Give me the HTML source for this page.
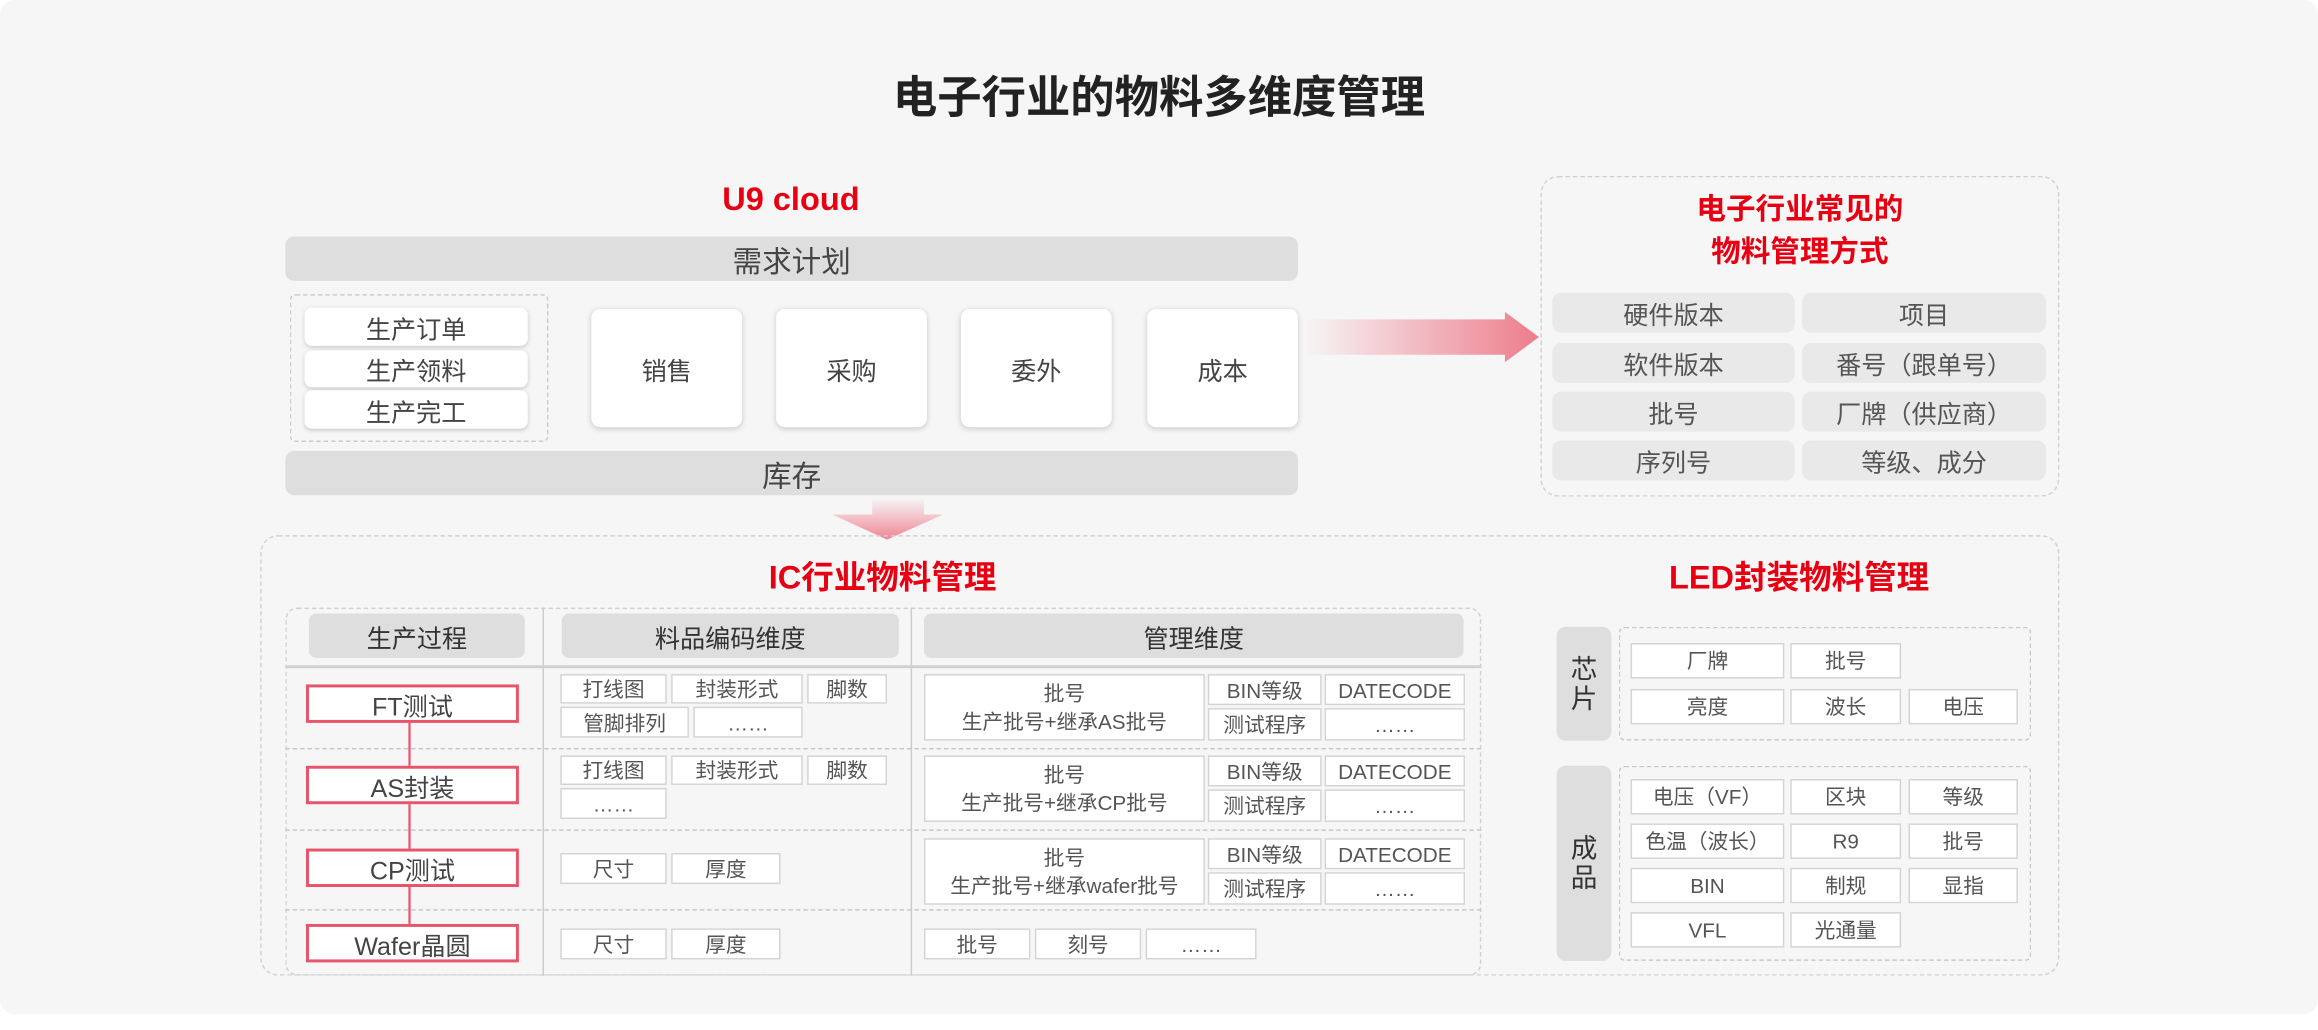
<!DOCTYPE html>
<html><head><meta charset="utf-8"><style>
html,body{margin:0;padding:0;background:#fff;width:2318px;height:1030px;overflow:hidden}
#w{position:absolute;left:0;top:0;width:1568px;height:697px;transform:scale(1.47832);transform-origin:0 0;font-family:"Liberation Sans","Noto Sans CJK SC",sans-serif;color:#444}
.a{position:absolute;box-sizing:border-box;display:flex;align-items:center;justify-content:center;text-align:center;white-space:nowrap}
.bg{position:absolute;left:0;top:0;width:1568px;height:686px;background:#f6f6f6;border-radius:10px}
.red{color:#e60012;font-weight:bold}
.bar{background:#dedede;border-radius:6px;font-size:20px;color:#444}
.sm{background:#fff;border-radius:5px;box-shadow:0 1px 3px rgba(0,0,0,.18);font-size:17px}
.big{background:#fff;border-radius:6px;box-shadow:0 1px 4px rgba(0,0,0,.18);font-size:17px}
.g{background:#e9e9e9;border-radius:6px;font-size:17px;color:#555}
.c{background:#fff;border:1px solid #d4d4d4;font-size:14px;color:#555}
.h{background:#dedede;border-radius:5px;font-size:17px;color:#333}
.p{background:#fff;border:2px solid #e8546a;font-size:17px;color:#444}
.dot{position:absolute;box-sizing:border-box;border:1px dashed #d0d0d0;border-radius:12px}
</style></head><body><div id="w">
<div class="bg"></div>
<div class="a" style="left:0;top:40px;width:1568px;height:46px;font-size:30px;font-weight:bold;color:#222">电子行业的物料多维度管理</div>
<div class="a red" style="left:435px;top:120px;width:200px;height:30px;font-size:22px">U9 cloud</div>
<div class="a bar" style="left:193px;top:160px;width:685px;height:30px">需求计划</div>
<div class="dot" style="left:196px;top:199px;width:175px;height:100px;border-radius:4px;border-color:#ccc"></div>
<div class="a sm" style="left:206px;top:208px;width:151px;height:26px">生产订单</div>
<div class="a sm" style="left:206px;top:237px;width:151px;height:25px">生产领料</div>
<div class="a sm" style="left:206px;top:264px;width:151px;height:26px">生产完工</div>
<div class="a big" style="left:400px;top:209px;width:102px;height:80px">销售</div>
<div class="a big" style="left:525px;top:209px;width:102px;height:80px">采购</div>
<div class="a big" style="left:650px;top:209px;width:102px;height:80px">委外</div>
<div class="a big" style="left:776px;top:209px;width:102px;height:80px">成本</div>
<div class="a bar" style="left:193px;top:305px;width:685px;height:30px">库存</div>
<svg style="position:absolute;left:0;top:0" width="1568" height="697">
<defs><linearGradient id="gr" x1="0" x2="1"><stop offset="0" stop-color="#f6f6f6"/><stop offset="1" stop-color="#ee7c8b"/></linearGradient>
<linearGradient id="gd" x1="0" y1="0" x2="0" y2="1"><stop offset="0" stop-color="#f6f6f6"/><stop offset="1" stop-color="#ef8594"/></linearGradient></defs>
<polygon points="882,216 1018,216 1018,211 1041,228 1018,245 1018,240 882,240" fill="url(#gr)"/>
<polygon points="590,337 625,337 625,348 638,348 600,365 563,348 590,348" fill="url(#gd)"/>
<line x1="277" y1="488" x2="277" y2="625" stroke="#e8546a" stroke-width="1.5"/>
</svg>
<div class="dot" style="left:1042px;top:119px;width:351px;height:217px"></div>
<div class="a red" style="left:1042px;top:128px;width:351px;height:58px;font-size:20px;line-height:29px;white-space:normal">电子行业常见的<br>物料管理方式</div>
<div class="a g" style="left:1050px;top:198px;width:164px;height:27px">硬件版本</div>
<div class="a g" style="left:1219px;top:198px;width:165px;height:27px">项目</div>
<div class="a g" style="left:1050px;top:232px;width:164px;height:27px">软件版本</div>
<div class="a g" style="left:1219px;top:232px;width:165px;height:27px">番号（跟单号）</div>
<div class="a g" style="left:1050px;top:265px;width:164px;height:27px">批号</div>
<div class="a g" style="left:1219px;top:265px;width:165px;height:27px">厂牌（供应商）</div>
<div class="a g" style="left:1050px;top:298px;width:164px;height:27px">序列号</div>
<div class="a g" style="left:1219px;top:298px;width:165px;height:27px">等级、成分</div>
<div class="dot" style="left:176px;top:362px;width:1217px;height:298px"></div>
<div class="a red" style="left:447px;top:374px;width:300px;height:30px;font-size:22px">IC行业物料管理</div>
<div class="dot" style="left:193px;top:411px;width:809px;height:249px;border-radius:8px"></div>
<div style="position:absolute;left:367px;top:411px;width:1px;height:249px;background:#ccc"></div>
<div style="position:absolute;left:616px;top:411px;width:1px;height:249px;background:#ccc"></div>
<div style="position:absolute;left:193px;top:450px;width:809px;height:2px;background:#d0d0d0"></div>
<div style="position:absolute;left:193px;top:506px;width:809px;border-top:1px dashed #c8c8c8"></div>
<div style="position:absolute;left:193px;top:561px;width:809px;border-top:1px dashed #c8c8c8"></div>
<div style="position:absolute;left:193px;top:615px;width:809px;border-top:1px dashed #c8c8c8"></div>
<div class="a h" style="left:209px;top:415px;width:146px;height:30px">生产过程</div>
<div class="a h" style="left:380px;top:415px;width:228px;height:30px">料品编码维度</div>
<div class="a h" style="left:625px;top:415px;width:365px;height:30px">管理维度</div>
<div class="a p" style="left:207px;top:463px;width:144px;height:26px">FT测试</div>
<div class="a p" style="left:207px;top:518px;width:144px;height:26px">AS封装</div>
<div class="a p" style="left:207px;top:574px;width:144px;height:26px">CP测试</div>
<div class="a p" style="left:207px;top:625px;width:144px;height:26px">Wafer晶圆</div>
<div class="a c" style="left:379px;top:456px;width:72px;height:20px">打线图</div>
<div class="a c" style="left:454px;top:456px;width:89px;height:20px">封装形式</div>
<div class="a c" style="left:546px;top:456px;width:54px;height:20px">脚数</div>
<div class="a c" style="left:379px;top:478px;width:87px;height:21px">管脚排列</div>
<div class="a c" style="left:469px;top:478px;width:74px;height:21px">……</div>
<div class="a c" style="left:379px;top:511px;width:72px;height:20px">打线图</div>
<div class="a c" style="left:454px;top:511px;width:89px;height:20px">封装形式</div>
<div class="a c" style="left:546px;top:511px;width:54px;height:20px">脚数</div>
<div class="a c" style="left:379px;top:533px;width:72px;height:21px">……</div>
<div class="a c" style="left:379px;top:577px;width:72px;height:21px">尺寸</div>
<div class="a c" style="left:454px;top:577px;width:74px;height:21px">厚度</div>
<div class="a c" style="left:379px;top:628px;width:72px;height:21px">尺寸</div>
<div class="a c" style="left:454px;top:628px;width:74px;height:21px">厚度</div>
<div class="a c" style="left:625px;top:456px;width:190px;height:45px;line-height:19px;white-space:normal">批号<br>生产批号+继承AS批号</div>
<div class="a c" style="left:817px;top:456px;width:77px;height:21px">BIN等级</div>
<div class="a c" style="left:896px;top:456px;width:95px;height:21px">DATECODE</div>
<div class="a c" style="left:817px;top:479px;width:77px;height:22px">测试程序</div>
<div class="a c" style="left:896px;top:479px;width:95px;height:22px">……</div>
<div class="a c" style="left:625px;top:511px;width:190px;height:45px;line-height:19px;white-space:normal">批号<br>生产批号+继承CP批号</div>
<div class="a c" style="left:817px;top:511px;width:77px;height:21px">BIN等级</div>
<div class="a c" style="left:896px;top:511px;width:95px;height:21px">DATECODE</div>
<div class="a c" style="left:817px;top:534px;width:77px;height:22px">测试程序</div>
<div class="a c" style="left:896px;top:534px;width:95px;height:22px">……</div>
<div class="a c" style="left:625px;top:567px;width:190px;height:45px;line-height:19px;white-space:normal">批号<br>生产批号+继承wafer批号</div>
<div class="a c" style="left:817px;top:567px;width:77px;height:21px">BIN等级</div>
<div class="a c" style="left:896px;top:567px;width:95px;height:21px">DATECODE</div>
<div class="a c" style="left:817px;top:590px;width:77px;height:22px">测试程序</div>
<div class="a c" style="left:896px;top:590px;width:95px;height:22px">……</div>
<div class="a c" style="left:625px;top:628px;width:72px;height:21px">批号</div>
<div class="a c" style="left:700px;top:628px;width:72px;height:21px">刻号</div>
<div class="a c" style="left:775px;top:628px;width:75px;height:21px">……</div>
<div class="a red" style="left:1067px;top:374px;width:300px;height:30px;font-size:22px">LED封装物料管理</div>
<div class="a h" style="left:1053px;top:424px;width:37px;height:77px;white-space:normal;line-height:20px;font-size:18px;border-radius:6px">芯<br>片</div>
<div class="a h" style="left:1053px;top:518px;width:37px;height:132px;white-space:normal;line-height:20px;font-size:18px;border-radius:6px">成<br>品</div>
<div class="dot" style="left:1095px;top:424px;width:279px;height:77px;border-radius:4px;border-color:#c8c8c8"></div>
<div class="dot" style="left:1095px;top:518px;width:279px;height:132px;border-radius:4px;border-color:#c8c8c8"></div>
<div class="a c" style="left:1103px;top:435px;width:104px;height:24px">厂牌</div>
<div class="a c" style="left:1211px;top:435px;width:75px;height:24px">批号</div>
<div class="a c" style="left:1103px;top:466px;width:104px;height:24px">亮度</div>
<div class="a c" style="left:1211px;top:466px;width:75px;height:24px">波长</div>
<div class="a c" style="left:1291px;top:466px;width:74px;height:24px">电压</div>
<div class="a c" style="left:1103px;top:527px;width:104px;height:24px">电压（VF）</div>
<div class="a c" style="left:1211px;top:527px;width:75px;height:24px">区块</div>
<div class="a c" style="left:1291px;top:527px;width:74px;height:24px">等级</div>
<div class="a c" style="left:1103px;top:557px;width:104px;height:24px">色温（波长）</div>
<div class="a c" style="left:1211px;top:557px;width:75px;height:24px">R9</div>
<div class="a c" style="left:1291px;top:557px;width:74px;height:24px">批号</div>
<div class="a c" style="left:1103px;top:587px;width:104px;height:24px">BIN</div>
<div class="a c" style="left:1211px;top:587px;width:75px;height:24px">制规</div>
<div class="a c" style="left:1291px;top:587px;width:74px;height:24px">显指</div>
<div class="a c" style="left:1103px;top:617px;width:104px;height:24px">VFL</div>
<div class="a c" style="left:1211px;top:617px;width:75px;height:24px">光通量</div>
</div></body></html>
